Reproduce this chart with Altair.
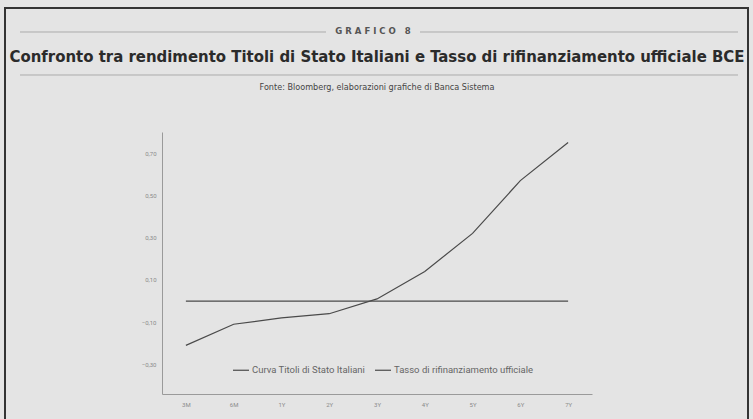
import altair as alt
import pandas as pd

# Tenors of the curve and yields (%)
tenors = ["3M", "6M", "1Y", "2Y", "3Y", "4Y", "5Y", "6Y", "7Y"]
btp_yields = [-0.21, -0.11, -0.08, -0.06, 0.01, 0.14, 0.32, 0.57, 0.75]
ecb_rate = [0.00, 0.00, 0.00, 0.00, 0.00, 0.00, 0.00, 0.00, 0.00]
series_names = ["Curva Titoli di Stato Italiani", "Tasso di rifinanziamento ufficiale"]
y_ticks = [-0.3, -0.1, 0.1, 0.3, 0.5, 0.7]

df = pd.DataFrame(
    {
        "tenor": tenors * 2,
        "valore": btp_yields + ecb_rate,
        "serie": [series_names[0]] * len(tenors) + [series_names[1]] * len(tenors),
    }
)

W, H = 430, 262
LEFT, TOP = 162, 132
INK = "#2b2b2b"
LINE = "#4a4a4a"
RULE = "#ababab"
LABEL = "#8a8a8a"
FONT = "DejaVu Sans Condensed"
SMALL = "Roboto"

one = alt.Data(values=[{}])

lines = (
    alt.Chart(df)
    .mark_line(strokeWidth=1.2)
    .encode(
        x=alt.X(
            "tenor:N",
            sort=tenors,
            scale=alt.Scale(padding=0.5),
            axis=alt.Axis(
                title=None,
                labelAngle=0,
                ticks=False,
                grid=False,
                domainColor="#9a9a9a",
                labelColor=LABEL,
                labelFontSize=6,
                labelPadding=7,
            ),
        ),
        y=alt.Y(
            "valore:Q",
            scale=alt.Scale(domain=[-0.44, 0.80], nice=False, zero=False),
            axis=alt.Axis(
                title=None,
                values=y_ticks,
                labelExpr="replace(format(datum.value, '.2f'), '.', ',')",
                ticks=False,
                grid=False,
                domainColor="#9a9a9a",
                labelColor=LABEL,
                labelFontSize=6,
                labelPadding=6,
            ),
        ),
        color=alt.Color(
            "serie:N",
            scale=alt.Scale(domain=series_names, range=[LINE, LINE]),
            legend=alt.Legend(
                title=None,
                orient="none",
                direction="horizontal",
                legendX=70,
                legendY=229,
                symbolType="stroke",
                symbolSize=256,
                symbolStrokeWidth=1.2,
                labelFontSize=9.5,
                labelColor="#666666",
                labelOffset=2,
                columnPadding=6,
                labelLimit=300,
            ),
        ),
    )
)

# Outer frame
frame = (
    alt.Chart(one)
    .mark_rect(fill=None, stroke="#333333", strokeWidth=2)
    .encode(
        x=alt.value(5 - LEFT),
        x2=alt.value(748 - LEFT),
        y=alt.value(8 - TOP),
        y2=alt.value(430 - TOP),
    )
)

rule_style = dict(color=RULE, strokeWidth=1)
rule_left = alt.Chart(one).mark_rule(**rule_style).encode(
    x=alt.value(20 - LEFT), x2=alt.value(326 - LEFT), y=alt.value(32 - TOP)
)
rule_right = alt.Chart(one).mark_rule(**rule_style).encode(
    x=alt.value(420 - LEFT), x2=alt.value(738 - LEFT), y=alt.value(32 - TOP)
)
rule_mid = alt.Chart(one).mark_rule(**rule_style).encode(
    x=alt.value(20 - LEFT), x2=alt.value(738 - LEFT), y=alt.value(75 - TOP)
)

kicker = alt.Chart(one).mark_text(
    text="G R A F I C O \u00a0 8",
    font=FONT,
    fontSize=9.5,
    fontWeight="bold",
    color="#555555",
    align="center",
    baseline="middle",
).encode(x=alt.value(373 - LEFT), y=alt.value(31 - TOP))

title = alt.Chart(one).mark_text(
    text="Confronto tra rendimento Titoli di Stato Italiani e Tasso di rifinanziamento ufficiale BCE",
    font=FONT,
    fontSize=16.6,
    fontWeight="bold",
    color=INK,
    align="center",
    baseline="middle",
).encode(x=alt.value(377 - LEFT), y=alt.value(57 - TOP))

source = alt.Chart(one).mark_text(
    text="Fonte: Bloomberg, elaborazioni grafiche di Banca Sistema",
    font=FONT,
    fontSize=9,
    color="#444444",
    align="center",
    baseline="middle",
).encode(x=alt.value(377 - LEFT), y=alt.value(87 - TOP))

chart = (
    alt.layer(frame, rule_left, rule_right, rule_mid, kicker, title, source, lines)
    .properties(
        width=W,
        height=H,
        padding={"left": LEFT, "top": TOP, "right": 753 - LEFT - W, "bottom": 419 - TOP - H},
        autosize=alt.AutoSizeParams(type="none"),
        background="#e4e4e4",
    )
    .configure_view(stroke=None)
    .configure_axis(labelFont=SMALL)
    .configure_legend(labelFont=SMALL)
)

chart.save("out.html", embed_options={"renderer": "svg", "actions": False})
